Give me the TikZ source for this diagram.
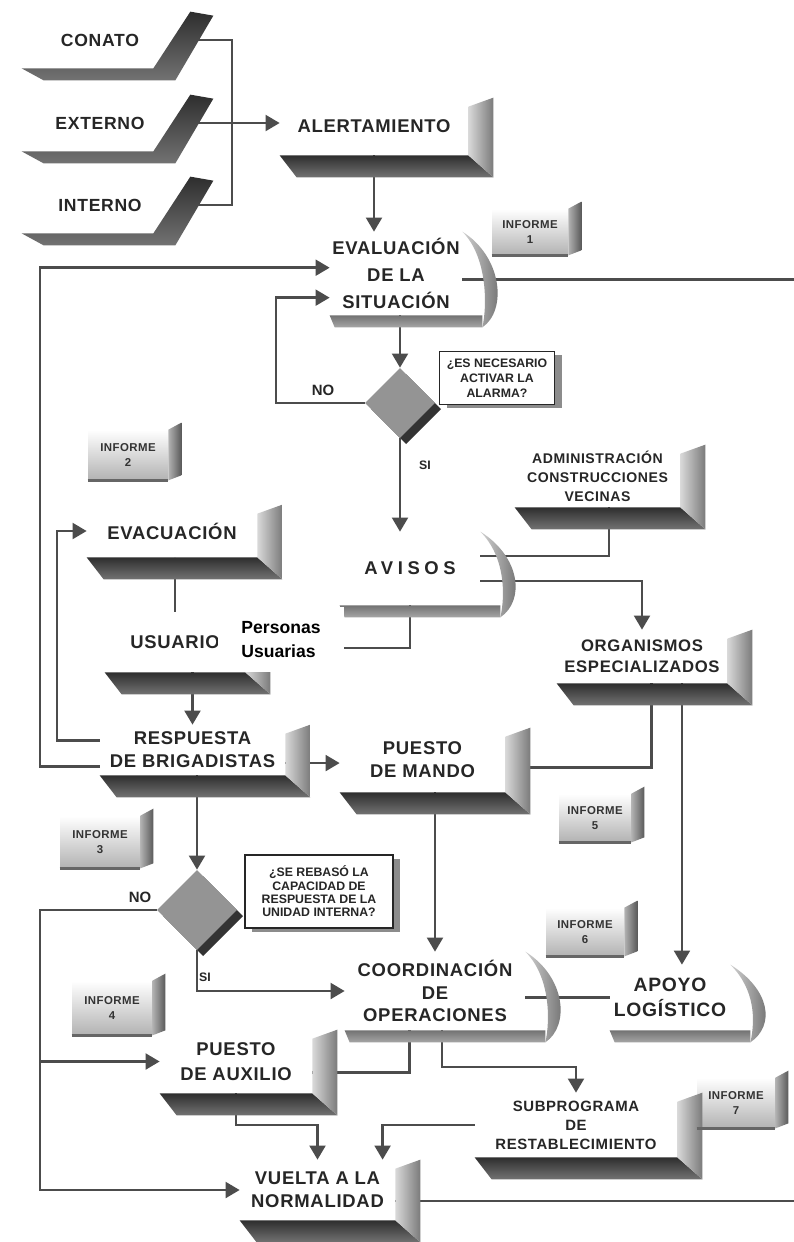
\documentclass[tikz,border=0pt]{standalone}
\usepackage{fontspec}
\setmainfont{Liberation Sans}
\newfontfamily\boxfont[LetterSpace=4]{Liberation Sans}
\usepackage{tikz}
\usetikzlibrary{arrows.meta,calc,shapes.geometric,shadows}

\begin{document}
\begin{tikzpicture}[x=0.02cm,y=-0.02cm,
  face/.style 2 args={minimum width=#1*0.02cm,minimum height=#2*0.02cm},
  box/.style={rectangle,fill=white,inner sep=0pt,align=center,text=black!85,
    font=\boxfont\bfseries\fontsize{10.5}{13}\selectfont},
  small/.style={font=\boxfont\bfseries\fontsize{8}{10.8}\selectfont},
  dia/.style={diamond,fill=black!42,inner sep=0pt,face={70}{70},
    drop shadow={shadow xshift=3.5pt,shadow yshift=-3.5pt,fill=black!80,opacity=1}},
  ask/.style={rectangle,draw=black!85,line width=0.6pt,fill=white,align=center,inner sep=0pt,
    text=black!85,font=\bfseries\fontsize{7}{8.4}\selectfont,
    drop shadow={shadow xshift=4pt,shadow yshift=-2pt,fill=black!45,opacity=1}},
  tag/.style={rectangle,top color=white,bottom color=black!30,inner sep=0pt,align=center,
    text=black!80,font=\boxfont\bfseries\fontsize{6.5}{8.5}\selectfont},
  lbl/.style={text=black!85,font=\bfseries\fontsize{8.5}{10}\selectfont},
  ln/.style={draw=black!70,line width=1.5pt},
  arr/.style={ln,-{Triangle[width=9pt,length=8pt]}},
  slab/.style={top color=black!82,bottom color=black!55},
  side/.style={left color=black!15,right color=black!52},
  moon/.style={left color=black!18,right color=black!62},
  base/.style={top color=black!55,bottom color=black!35}
]
\fill[white] (0,0) rectangle (794,1242);
\useasboundingbox (0,0) rectangle (794,1242);

\node[box,face={156}{56},font=\boxfont\bfseries\fontsize{10}{12}\selectfont] (conato) at (100,40) {CONATO};
\node[box,face={156}{56},font=\boxfont\bfseries\fontsize{10}{12}\selectfont] (externo) at (100,123) {EXTERNO};
\node[box,face={156}{56},font=\boxfont\bfseries\fontsize{10}{12}\selectfont] (interno) at (100,205) {INTERNO};

\node[box,face={188}{57}] (alert) at (374,126.5) {ALERTAMIENTO};
\node[box,face={132}{83},font=\boxfont\bfseries\fontsize{10.5}{15.5}\selectfont] (eval) at (396,273.5) {EVALUACIÓN\\DE LA\\SITUACIÓN};
\node[dia] (dia1) at (400,403) {};
\node[ask,face={115}{53}] (ask1) at (497,378) {¿ES NECESARIO\\ACTIVAR LA\\ALARMA?};
\node[lbl] (no1) at (323,390) {NO};
\node[lbl,font=\bfseries\fontsize{7}{8}\selectfont] (si1) at (425,465) {SI};

\node[box,small,face={165}{62}] (admin) at (597.5,476) {ADMINISTRACIÓN\\CONSTRUCCIONES\\VECINAS};
\node[box,face={140}{73},font=\boxfont\bfseries\fontsize{10.5}{13}\selectfont\addfontfeatures{LetterSpace=25}] (avisos) at (410,568.5) {AVISOS};
\node[box,face={170}{52}] (evac) at (172,531) {EVACUACIÓN};
\node[box,face={140}{60}] (usuario) at (175,642) {USUARIO};
\node[box,face={185}{50}] (resp) at (192.5,750) {RESPUESTA\\DE BRIGADISTAS};
\node[box,face={165}{64}] (mando) at (422.5,760) {PUESTO\\DE MANDO};
\node[box,face={170}{53},font=\boxfont\bfseries\fontsize{9.5}{12}\selectfont] (organ) at (642,656.5) {ORGANISMOS\\ESPECIALIZADOS};

\node[dia,face={80}{80}] (dia2) at (197,910) {};
\node[ask,face={148}{73},font=\bfseries\fontsize{7}{7.6}\selectfont] (ask2) at (319,891.5) {¿SE REBASÓ LA\\CAPACIDAD DE\\RESPUESTA DE LA\\UNIDAD INTERNA?};
\node[lbl] (no2) at (140,897) {NO};
\node[lbl,font=\bfseries\fontsize{7}{8}\selectfont] (si2) at (205,977) {SI};

\node[box,face={180}{78}] (coord) at (435,991) {COORDINACIÓN\\DE\\OPERACIONES};
\node[box,face={120}{65},font=\boxfont\bfseries\fontsize{11}{14}\selectfont] (apoyo) at (670,997.5) {APOYO\\LOGÍSTICO};
\node[box,face={152}{63},font=\boxfont\bfseries\fontsize{10.5}{14}\selectfont] (aux) at (236,1061.5) {PUESTO\\DE AUXILIO};
\node[box,small,face={202}{64},font=\boxfont\bfseries\fontsize{8.5}{10.8}\selectfont] (subp) at (576,1125) {SUBPROGRAMA\\DE\\RESTABLECIMIENTO};
\node[box,face={155}{60}] (vuelta) at (317.5,1190) {VUELTA A LA\\NORMALIDAD};

\node[tag,face={76}{46}] (inf1) at (530,232) {INFORME\\1};
\node[tag,face={80}{50}] (inf2) at (128,455) {INFORME\\2};
\node[tag,face={80}{52}] (inf3) at (100,842) {INFORME\\3};
\node[tag,face={80}{54}] (inf4) at (112,1008) {INFORME\\4};
\node[tag,face={72}{48}] (inf5) at (595,818) {INFORME\\5};
\node[tag,face={78}{48}] (inf6) at (585,932) {INFORME\\6};
\node[tag,face={78}{50}] (inf7) at (736,1103) {INFORME\\7};

\coordinate (railL) at (40,0);
\coordinate (railB) at (57,0);
\coordinate (railC) at (276,0);
\coordinate (railD) at (232,0);
\coordinate (railR) at (794,0);
\coordinate (railF) at (0,1067);
\coordinate (railG) at (0,1125);

\draw[ln] (conato.east) -- (conato.east -| railD) -- (interno.east -| railD) -- (interno.east);
\draw[arr] (externo.east) -- (externo.east -| alert.west);
\draw[arr] (alert.south) -- (alert.south |- eval.north);
\draw[arr] (dia1.north |- eval.south) -- (dia1.north);
\draw[arr] (dia1.west) -- (dia1.west -| railC) |- (eval.200);
\draw[arr] (dia1.south) -- (dia1.south |- avisos.north);
\draw[ln] (eval.-5) -- (eval.-5 -| railR);
\draw[ln] (admin.-70) |- (avisos.10);
\draw[arr] (avisos.-10) -| (organ.north);
\draw[ln] (avisos.south) |- (usuario.-5);
\draw[arr] (usuario.north) -- (usuario.north |- evac.south);
\draw[arr] (resp.north |- usuario.south) -- (resp.north);
\draw[arr] (resp.190) -- (resp.190 -| railL) |- (eval.175);
\draw[arr] (resp.174) -- (resp.174 -| railB) |- (evac.west);
\draw[arr] (resp.-8) -- (resp.-8 -| mando.west);
\draw[ln] (organ.-70) |- (mando.-5);
\draw[arr] (apoyo.70 |- organ.south) -- (apoyo.70);
\draw[arr] (coord.north |- mando.south) -- (coord.north);
\draw[ln] (apoyo.west) -- (apoyo.west -| coord.east);
\draw[arr] (dia2.north |- resp.south) -- (dia2.north);
\draw[arr] (dia2.west) -- (dia2.west -| railL) |- (vuelta.west);
\draw[arr] (railL |- aux.west) -- (aux.west);
\draw[arr] (dia2.south) |- (coord.west);
\draw[ln] (coord.-123) |- (aux.-8);
\draw[arr] (coord.-80) |- (subp.north |- railF) -- (subp.north);
\draw[arr] (subp.west) -| (vuelta.25);
\draw[arr] (aux.south) |- (vuelta.north |- railG) -- (vuelta.north);
\draw[ln] (vuelta.-8) -- (vuelta.-8 -| railR);

% 3d parts
\foreach \n in {conato,externo,interno}{
  \shade[slab] (\n.south west) -- ($(\n.south east)+(-25,0)$) -- ($(\n.north east)+(12,0)$)
    -- ($(\n.north east)+(35,4)$) -- ($(\n.south east)+(-3,12)$) -- ($(\n.south west)+(22,12)$) -- cycle;
}
\foreach \n in {alert,evac,usuario,resp,mando,organ,admin,aux,subp,vuelta}{
  \shade[slab] (\n.south west) -- (\n.south east) -- ($(\n.south east)+(25,22)$) -- ($(\n.south west)+(17,22)$) -- cycle;
  \shade[side] ($(\n.north east)+(0,9)$) -- ($(\n.north east)+(25,0)$) -- ($(\n.south east)+(25,22)$) -- (\n.south east) -- cycle;
}
\foreach \n in {eval,avisos,coord,apoyo}{
  \shade[base] (\n.south west) -- ($(\n.south east)+(20,0)$) -- ($(\n.south east)+(20,12)$) -- ($(\n.south west)+(5,12)$) -- cycle;
  \shade[moon] (\n.north east) .. controls ($(\n.north east)+(40,25)$) and ($(\n.south east)+(45,-5)$) .. ($(\n.south east)+(20,12)$)
    .. controls ($(\n.south east)+(25,-10)$) and ($(\n.north east)+(25,25)$) .. (\n.north east);
}
\foreach \n in {inf1,inf2,inf3,inf4,inf5,inf6,inf7}{
  \shade[left color=black!30,right color=black!65] (\n.north east) -- ++(13,-7) -- ($(\n.south east)+(13,-5)$) -- (\n.south east) -- cycle;
  \draw[black!60,line width=1.5pt] (\n.south west) -- (\n.south east);
}

\node[fill=white,face={126}{65},inner sep=0pt,align=left,font=\bfseries\fontsize{10}{14}\selectfont] (personas) at (281,639.5) {Personas\\Usuarias};
\end{tikzpicture}
\end{document}
